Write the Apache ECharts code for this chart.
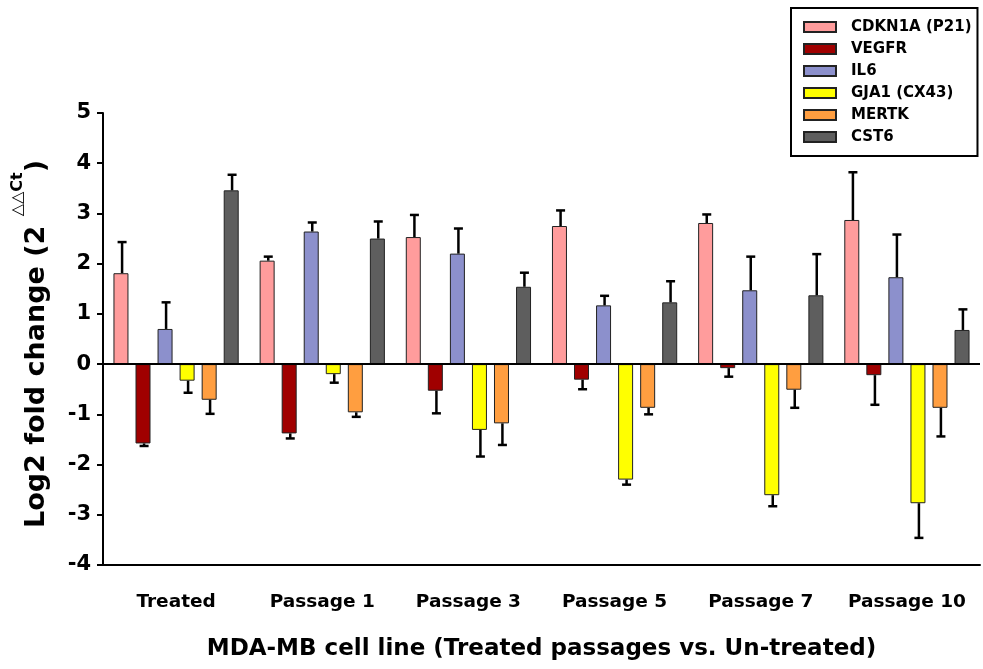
<!DOCTYPE html>
<html><head><meta charset="utf-8">
<script src="https://cdn.jsdelivr.net/npm/echarts@6/dist/echarts.min.js"></script>
<style>html,body{margin:0;padding:0;background:#fff}#c{width:983px;height:669px}</style>
</head><body><div id="c"></div>
<script>
const categories = ['Treated', 'Passage 1', 'Passage 3', 'Passage 5', 'Passage 7', 'Passage 10'];
const genes = ['CDKN1A (P21)', 'VEGFR', 'IL6', 'GJA1 (CX43)', 'MERTK', 'CST6'];
const colors = ['#FF9C9C', '#A00000', '#8C90CC', '#FFFF00', '#FF9E40', '#5E5E5E'];
const cdkn1a = [1.81, 2.06, 2.53, 2.75, 2.81, 2.87];
const cdkn1aErr = [0.62, 0.08, 0.44, 0.31, 0.17, 0.95];
const vegfr = [-1.58, -1.38, -0.53, -0.31, -0.08, -0.22];
const vegfrErr = [0.05, 0.10, 0.45, 0.19, 0.17, 0.59];
const il6 = [0.70, 2.64, 2.20, 1.17, 1.47, 1.73];
const il6Err = [0.53, 0.18, 0.50, 0.19, 0.67, 0.85];
const gja1 = [-0.33, -0.20, -1.31, -2.30, -2.61, -2.77];
const gja1Err = [0.24, 0.17, 0.53, 0.10, 0.22, 0.69];
const mertk = [-0.71, -0.96, -1.18, -0.87, -0.51, -0.87];
const mertkErr = [0.28, 0.09, 0.43, 0.13, 0.36, 0.57];
const cst6 = [3.46, 2.50, 1.54, 1.23, 1.37, 0.68];
const cst6Err = [0.31, 0.34, 0.28, 0.42, 0.82, 0.41];
const yTicks = [-4, -3, -2, -1, 0, 1, 2, 3, 4, 5];

const values = [cdkn1a, vegfr, il6, gja1, mertk, cst6];
const errs = [cdkn1aErr, vegfrErr, il6Err, gja1Err, mertkErr, cst6Err];
const BAR_W = 15, STEP = 22;
const FONT = 'DejaVu Sans';

const series = [];
genes.forEach((g, i) => {
  series.push({
    name: g, type: 'bar', data: values[i], barWidth: BAR_W, barGap: '47%',
    itemStyle: { color: colors[i], borderColor: '#222', borderWidth: 1 },
    z: 2,
    markLine: i === 0 ? { silent: true, symbol: 'none', label: { show: false },
      lineStyle: { color: '#000', width: 2, type: 'solid' }, data: [{ yAxis: 0 }] } : undefined
  });
});
genes.forEach((g, i) => {
  series.push({
    type: 'custom', name: g + ' err', z: 5,
    data: categories.map((c, k) => [k, values[i][k], errs[i][k]]),
    renderItem: function (params, api) {
      const k = api.value(0), v = api.value(1), e = api.value(2);
      const end = v >= 0 ? v + e : v - e;
      const p0 = api.coord([k, v]);
      const p1 = api.coord([k, end]);
      const x = p0[0] + (i - 2.5) * STEP + 1;
      const style = { stroke: '#000', lineWidth: 2.5 };
      return { type: 'group', children: [
        { type: 'line', shape: { x1: x, y1: p0[1], x2: x, y2: p1[1] }, style },
        { type: 'line', shape: { x1: x - 4.5, y1: p1[1], x2: x + 4.5, y2: p1[1] }, style }
      ]};
    },
    silent: true
  });
});

const chart = echarts.init(document.getElementById('c'));
chart.setOption({
  animation: false,
  backgroundColor: '#fff',
  grid: { left: 103, right: 3, top: 113, bottom: 104, outerBoundsMode: 'none', containLabel: false },
  legend: {
    data: genes, orient: 'vertical', left: 791, top: 8, width: 188, icon: 'rect',
    padding: [8, 6, 8, 12], itemWidth: 32, itemHeight: 10, itemGap: 0,
    borderColor: '#000', borderWidth: 2, backgroundColor: '#fff',
    textStyle: { fontFamily: FONT, fontWeight: 'bold', fontSize: 15, lineHeight: 22, color: '#000', padding: [0, 0, 0, 10] }
  },
  xAxis: {
    type: 'category', data: categories,
    axisLine: { onZero: false, lineStyle: { color: '#000', width: 2 } },
    axisTick: { alignWithLabel: true, length: 6, lineStyle: { color: '#000', width: 2 } },
    axisLabel: { interval: 0, hideOverlap: false, fontFamily: FONT, fontWeight: 'bold', fontSize: 18.5, color: '#000', margin: 28 },
    name: 'MDA-MB cell line (Treated passages vs. Un-treated)',
    nameLocation: 'middle', nameGap: 73,
    nameTextStyle: { fontFamily: FONT, fontWeight: 'bold', fontSize: 23, color: '#000' }
  },
  yAxis: {
    type: 'value', min: yTicks[0], max: yTicks[yTicks.length - 1], interval: 1,
    splitLine: { show: false },
    axisLine: { show: true, lineStyle: { color: '#000', width: 2 } },
    axisTick: { show: true, length: 6, lineStyle: { color: '#000', width: 2 } },
    axisLabel: { fontFamily: FONT, fontWeight: 'bold', fontSize: 21, color: '#000', margin: 12 },
    name: '{a|Log2 fold change (2 }{s|△△Ct}{a|)}',
    nameLocation: 'middle', nameRotate: 90, nameGap: 53,
    nameTextStyle: {
      padding: [0, 10, 0, 0],
      rich: {
        a: { fontFamily: FONT, fontWeight: 'bold', fontSize: 27, color: '#000', lineHeight: 30, verticalAlign: 'bottom' },
        s: { fontFamily: FONT, fontWeight: 'bold', fontSize: 16, color: '#000', lineHeight: 40, verticalAlign: 'top', padding: [0, 0, 22, 0] }
      }
    }
  },
  series
});
</script></body></html>
